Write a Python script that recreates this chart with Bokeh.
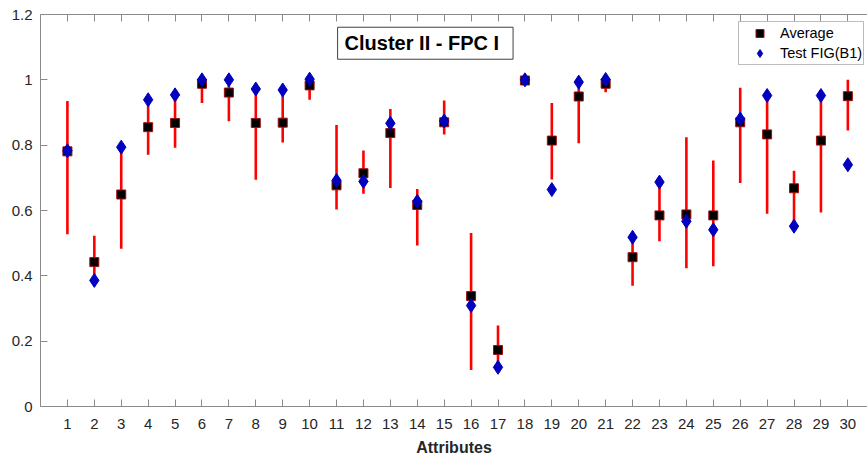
from bokeh.plotting import figure
from bokeh.models import (ColumnDataSource, Range1d, FixedTicker, LinearAxis,
                          NumeralTickFormatter, Label, Legend, LegendItem)
from bokeh.embed import file_html
from bokeh.resources import INLINE

attributes = list(range(1, 31))
average = [0.781, 0.442, 0.649, 0.855, 0.868, 0.988, 0.961, 0.868, 0.869, 0.983,
           0.677, 0.714, 0.837, 0.617, 0.870, 0.338, 0.173, 0.998, 0.814, 0.949,
           0.988, 0.457, 0.585, 0.588, 0.585, 0.870, 0.833, 0.668, 0.814, 0.950]
test_fig_b1 = [0.783, 0.386, 0.794, 0.939, 0.954, 1.000, 1.000, 0.972, 0.969, 1.002,
               0.692, 0.689, 0.867, 0.628, 0.874, 0.309, 0.120, 1.000, 0.664, 0.993,
               1.001, 0.518, 0.687, 0.567, 0.541, 0.880, 0.952, 0.552, 0.952, 0.740]
lower = [0.527, 0.400, 0.483, 0.771, 0.792, 0.929, 0.873, 0.694, 0.808, 0.939,
         0.603, 0.651, 0.669, 0.493, 0.833, 0.112, 0.120, 0.990, 0.695, 0.806,
         0.962, 0.370, 0.506, 0.423, 0.429, 0.684, 0.590, 0.560, 0.594, 0.845]
upper = [0.935, 0.523, 0.790, 0.930, 0.950, 1.000, 0.995, 0.970, 0.965, 1.000,
         0.862, 0.784, 0.911, 0.666, 0.937, 0.531, 0.248, 1.008, 0.929, 0.990,
         1.000, 0.515, 0.680, 0.824, 0.753, 0.976, 0.950, 0.722, 0.950, 1.000]
y_ticks = [0, 0.2, 0.4, 0.6, 0.8, 1.0, 1.2]
title_text = "Cluster II - FPC I"
x_label = "Attributes"

src = ColumnDataSource(dict(x=attributes, avg=average, test=test_fig_b1,
                            lo=lower, hi=upper))

FONT = "Liberation Sans"
AX = "#262626"
SPINE = "#8a8a8a"

p = figure(width=867, height=462, output_backend="svg", toolbar_location=None,
           x_range=Range1d(0, 30.73), y_range=Range1d(0, 1.2),
           min_border_left=40, min_border_right=0, min_border_top=14,
           min_border_bottom=56, background_fill_color="white",
           border_fill_color="white", outline_line_color=None)
p.grid.visible = False

p.segment(x0="x", y0="lo", x1="x", y1="hi", source=src, line_color="#ff0000",
          line_width=2.6)
r_avg = p.scatter(x="x", y="avg", source=src, marker="square", size=9,
                  fill_color="black", line_color="#a01010", line_width=1)
r_test = p.scatter(x="x", y="test", source=src, marker="diamond", size=14,
                   fill_color="#0000be", line_color="#0000be", line_width=1)

# axes
p.xaxis.ticker = FixedTicker(ticks=attributes)
p.yaxis.ticker = FixedTicker(ticks=y_ticks)
p.yaxis.formatter = NumeralTickFormatter(format="0.[0]")
for ax in (p.xaxis[0], p.yaxis[0]):
    ax.axis_line_color = SPINE
    ax.major_tick_line_color = SPINE
    ax.major_tick_in = 7
    ax.major_tick_out = 0
    ax.minor_tick_line_color = None
    ax.major_label_text_font = FONT
    ax.major_label_text_font_size = "15px"
    ax.major_label_text_color = AX
p.yaxis.major_label_standoff = 8
p.xaxis.major_label_standoff = 12
p.xaxis.axis_label = x_label
p.xaxis.axis_label_text_font = FONT
p.xaxis.axis_label_text_font_size = "16px"
p.xaxis.axis_label_text_font_style = "bold"
p.xaxis.axis_label_text_color = AX
p.xaxis.axis_label_standoff = 7

# top box edge with inward ticks (minor ticks only, so no labels)
top = LinearAxis(ticker=FixedTicker(ticks=[], minor_ticks=attributes),
                 axis_line_color=SPINE, major_tick_line_color=None,
                 minor_tick_line_color=SPINE, minor_tick_line_width=1,
                 minor_tick_in=7, minor_tick_out=0, major_label_standoff=0)
p.add_layout(top, "above")

# title box inside plot
p.add_layout(Label(x=14.3, y=1.112, text=title_text, text_font=FONT,
                   text_font_size="20px", text_font_style="bold",
                   text_color="black", text_align="center",
                   text_baseline="middle", background_fill_color="white",
                   border_line_color="#404040", border_line_width=1,
                   padding=dict(left=7, right=14, top=5, bottom=5)))

legend = Legend(items=[LegendItem(label="Average", renderers=[r_avg]),
                       LegendItem(label="Test FIG(B1)", renderers=[r_test])],
                location=(698, 341), padding=1, spacing=0, margin=0,
                glyph_width=39, glyph_height=20, label_height=18,
                label_standoff=1,
                label_text_font=FONT, label_text_font_size="14.5px",
                label_text_color="black", border_line_color="#7a7a7a",
                border_line_width=1, background_fill_color="white",
                background_fill_alpha=1)
p.add_layout(legend, "center")

open("out.html", "w").write(file_html(p, INLINE))
